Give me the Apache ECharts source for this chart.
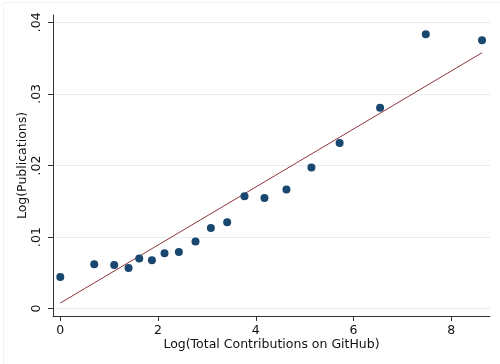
<!DOCTYPE html>
<html>
<head>
<meta charset="utf-8">
<script src="https://cdn.jsdelivr.net/npm/echarts@6/dist/echarts.min.js"></script>
<style>
  html, body { margin: 0; padding: 0; background: #fff; }
  #chart { width: 500px; height: 364px; }
</style>
</head>
<body>
<div id="chart"></div>
<script>
// Binned means of log publications by log total GitHub contributions
const binX = [0, 0.695, 1.104, 1.397, 1.616, 1.875, 2.133, 2.427, 2.767, 3.082,
              3.415, 3.769, 4.178, 4.628, 5.139, 5.716, 6.544, 7.479, 8.630];
const binY = [0.00442, 0.0062, 0.0061, 0.00568, 0.0070, 0.00676, 0.00773, 0.00792, 0.00937, 0.01127,
              0.01207, 0.01571, 0.01547, 0.01664, 0.01972, 0.02315, 0.02806, 0.03832, 0.03748];

// Linear fit endpoints
const fitX = [0, 8.63];
const fitY = [0.00078, 0.03575];

// Axis ticks
const xTicks = [0, 2, 4, 6, 8];
const yTicks = [0, 0.01, 0.02, 0.03, 0.04];

const navy = '#1a476f';
const maroon = '#90353b';
const axisColor = '#333';
const font = '"DejaVu Sans", sans-serif';
const fontSize = 12.5;

const chart = echarts.init(document.getElementById('chart'), null, { renderer: 'canvas' });

const fmtY = v => (v === 0 ? '0' : String(+v.toFixed(2)).replace(/^0/, ''));

chart.setOption({
  animation: false,
  backgroundColor: '#fff',
  graphic: [
    { type: 'line', shape: { x1: 3.5, y1: 2.5, x2: 500, y2: 2.5 }, style: { stroke: '#edf2f2', lineWidth: 1 } },
    { type: 'line', shape: { x1: 3.5, y1: 2.5, x2: 3.5, y2: 364 }, style: { stroke: '#edf2f2', lineWidth: 1 } }
  ],
  grid: { left: 53, right: 10, top: 15, bottom: 48, containLabel: false },
  xAxis: {
    type: 'value',
    min: -0.149,
    max: 8.793,
    name: 'Log(Total Contributions on GitHub)',
    nameLocation: 'middle',
    nameGap: 22,
    nameMoveOverlap: false,
    nameTextStyle: { color: '#111', fontFamily: font, fontSize: fontSize },
    axisLine: { show: true, onZero: false, lineStyle: { color: axisColor, width: 1 } },
    axisTick: { show: true, length: 5, customValues: xTicks, lineStyle: { color: axisColor } },
    axisLabel: { customValues: xTicks, margin: 8, color: '#111', fontFamily: font, fontSize: fontSize },
    splitLine: { show: false }
  },
  yAxis: {
    type: 'value',
    min: -0.00103,
    max: 0.04102,
    name: 'Log(Publications)',
    nameLocation: 'middle',
    nameGap: 24,
    nameMoveOverlap: false,
    nameRotate: 90,
    nameTextStyle: { color: '#111', fontFamily: font, fontSize: fontSize },
    axisLine: { show: true, onZero: false, lineStyle: { color: axisColor, width: 1 } },
    axisTick: { show: true, length: 5, customValues: yTicks, lineStyle: { color: axisColor } },
    axisLabel: { customValues: yTicks, rotate: 90, margin: 10, color: '#111', fontFamily: font, fontSize: fontSize,
                 formatter: fmtY },
    splitLine: { show: true, lineStyle: { color: '#e4eeee', width: 1 } }
  },
  series: [
    {
      type: 'line',
      data: fitX.map((x, i) => [x, fitY[i]]),
      symbol: 'none',
      lineStyle: { color: maroon, width: 1 },
      z: 3
    },
    {
      type: 'scatter',
      data: binX.map((x, i) => [x, binY[i]]),
      symbol: 'circle',
      symbolSize: 8,
      itemStyle: { color: navy, opacity: 1 },
      z: 4
    }
  ]
});
</script>
</body>
</html>
